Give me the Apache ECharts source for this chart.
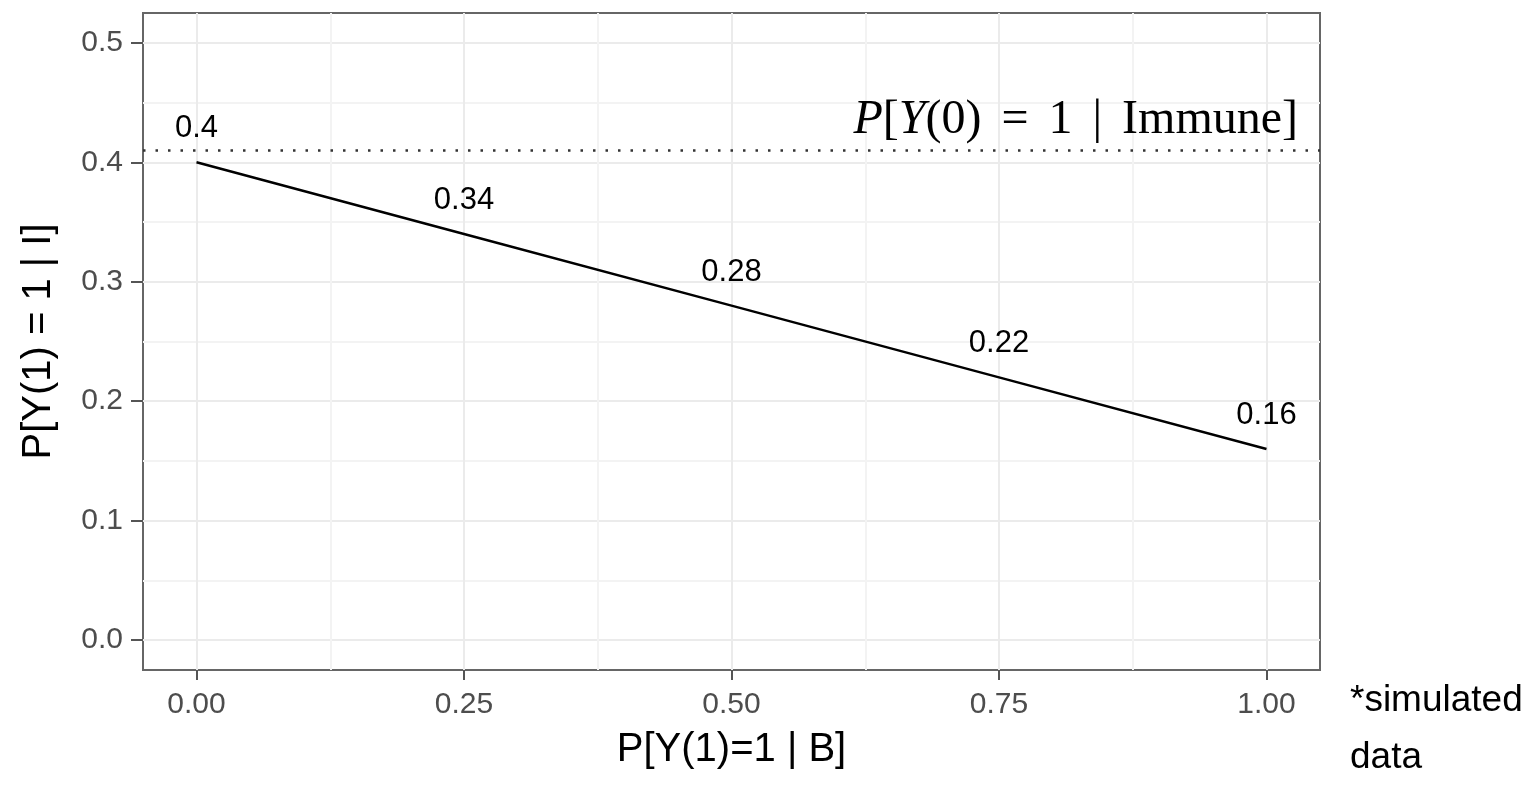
<!DOCTYPE html>
<html>
<head>
<meta charset="utf-8">
<script src="https://cdn.jsdelivr.net/npm/echarts@6/dist/echarts.min.js"></script>
<style>
  html, body { margin: 0; padding: 0; background: #fff; }
  #main { width: 1527px; height: 788px; }
</style>
</head>
<body>
<div id="main"></div>
<script>
// data
var xVals = [0, 0.25, 0.5, 0.75, 1];
var yVals = [0.4, 0.34, 0.28, 0.22, 0.16];
var refLevel = 0.41;

var xTicks = [0, 0.25, 0.5, 0.75, 1];
var xMinor = [0.125, 0.375, 0.625, 0.875];
var yTicks = [0, 0.1, 0.2, 0.3, 0.4, 0.5];
var yMinor = [0.05, 0.15, 0.25, 0.35, 0.45];

var myChart = echarts.init(document.getElementById('main'));

var tickColor = '#555';
var labelColor = '#4d4d4d';

var option = {
    animation: false,
    grid: {
        left: 143, right: 207, top: 13, bottom: 118,
        show: true,
        borderColor: '#666',
        borderWidth: 2,
        backgroundColor: '#fff'
    },
    xAxis: [{
        type: 'value',
        min: -0.05,
        max: 1.05,
        name: 'P[Y(1)=1 | B]',
        nameLocation: 'middle',
        nameGap: 60,
        nameTextStyle: { fontFamily: 'Liberation Sans', fontSize: 40, color: '#000' },
        axisLine: { show: false, onZero: false },
        axisTick: { show: true, length: 10, customValues: xTicks, lineStyle: { color: tickColor, width: 2 } },
        axisLabel: {
            customValues: xTicks,
            margin: 20,
            fontFamily: 'Liberation Sans',
            fontSize: 30,
            color: labelColor,
            formatter: function (v) { return v.toFixed(2); }
        },
        splitLine: { show: true, lineStyle: { color: '#ebebeb', width: 2 } }
    }, {
        // minor grid lines
        type: 'value',
        min: -0.05,
        max: 1.05,
        position: 'top',
        axisLine: { show: false, onZero: false },
        axisTick: { show: false, customValues: xMinor },
        axisLabel: { show: false, customValues: xMinor },
        splitLine: { show: true, lineStyle: { color: '#f3f3f3', width: 2 } }
    }],
    yAxis: [{
        type: 'value',
        min: -0.025,
        max: 0.525,
        name: 'P[Y(1) = 1 | I]',
        nameLocation: 'middle',
        nameRotate: 90,
        nameGap: 84,
        nameTextStyle: { fontFamily: 'Liberation Sans', fontSize: 40, color: '#000' },
        axisLine: { show: false, onZero: false },
        axisTick: { show: true, length: 12, customValues: yTicks, lineStyle: { color: tickColor, width: 2 } },
        axisLabel: {
            customValues: yTicks,
            margin: 20,
            fontFamily: 'Liberation Sans',
            fontSize: 30,
            color: labelColor,
            formatter: function (v) { return v.toFixed(1); }
        },
        splitLine: { show: true, lineStyle: { color: '#ebebeb', width: 2 } }
    }, {
        type: 'value',
        min: -0.025,
        max: 0.525,
        position: 'right',
        axisLine: { show: false, onZero: false },
        axisTick: { show: false, customValues: yMinor },
        axisLabel: { show: false, customValues: yMinor },
        splitLine: { show: true, lineStyle: { color: '#f3f3f3', width: 2 } }
    }],
    series: [{
        type: 'line',
        data: xVals.map(function (x, i) { return [x, yVals[i]]; }),
        symbol: 'circle',
        symbolSize: 0.1,
        showSymbol: true,
        itemStyle: { color: '#000' },
        lineStyle: { color: '#000', width: 2.5 },
        label: {
            show: true,
            position: 'top',
            distance: 18,
            fontFamily: 'Liberation Sans',
            fontSize: 31,
            color: '#000',
            formatter: function (p) { return String(p.value[1]); }
        },
        labelLayout: { hideOverlap: false },
        markLine: {
            silent: true,
            symbol: 'none',
            lineStyle: { color: '#333', type: [2.5, 10], width: 2.5 },
            label: {
                show: true,
                position: 'insideEndTop',
                distance: [22, 6],
                formatter: '{i|P}{n|[}{i|Y}{n|(0)}{o|=}{n|1}{o||}{n|Immune]}',
                rich: {
                    i: { fontFamily: 'Liberation Serif', fontStyle: 'italic', fontSize: 48, color: '#000' },
                    n: { fontFamily: 'Liberation Serif', fontSize: 48, color: '#000' },
                    o: { fontFamily: 'Liberation Serif', fontSize: 48, color: '#000', padding: [0, 20] }
                }
            },
            data: [{ yAxis: refLevel }]
        }
    }],
    graphic: [{
        type: 'text',
        left: 1350,
        top: 672,
        style: {
            text: '*simulated\ndata',
            fontFamily: 'Liberation Sans',
            fontSize: 37,
            lineHeight: 57,
            fill: '#000'
        }
    }]
};

myChart.setOption(option);
</script>
</body>
</html>
